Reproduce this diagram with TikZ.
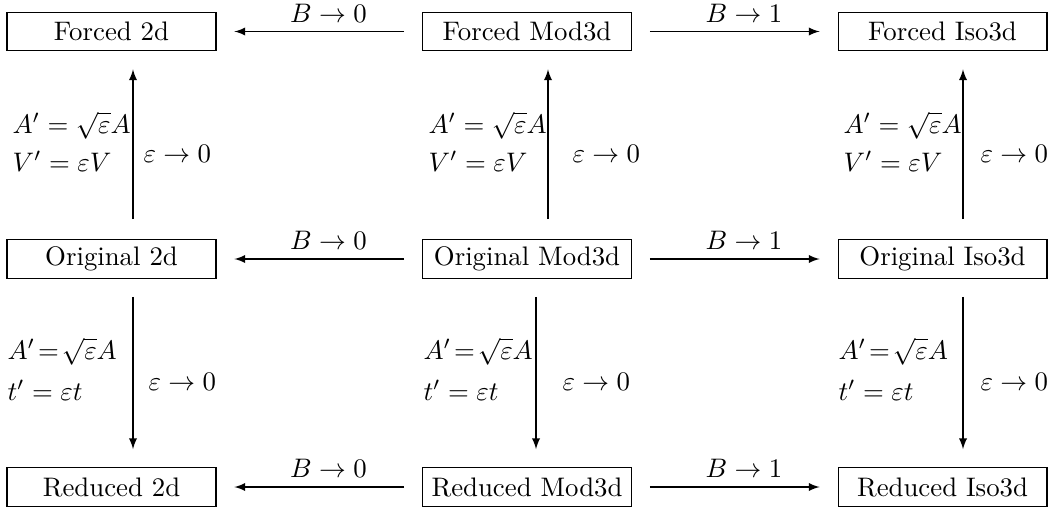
\documentclass[tikz,border=0pt]{standalone}
\usepackage{amsmath,amssymb}
\usetikzlibrary{calc}

\begin{document}
\begin{tikzpicture}[x=0.3733pt, y=-0.3733pt, >=latex,
  model/.style={draw, minimum width=78pt, minimum height=14.45pt, inner sep=0pt},
  lim/.style={->, shorten >=6.7pt, shorten <=6.7pt},
  limlabel/.style={midway, above=3.3pt, inner sep=0pt, xshift=3.4pt},
  lbl/.style={inner sep=0pt, anchor=base west}]

\useasboundingbox (0,0) rectangle (1048,508);

% the nine models: rows forced / original / reduced
\node[model] (f2) at (111.5,31.5) {Forced 2d};
\node[model] (fm) at (527,31.5)   {Forced Mod3d};
\node[model] (fi) at (942.5,31.5) {Forced Iso3d};

\node[model] (o2) at (111.5,259) {Original 2d};
\node[model] (om) at (527,259)   {Original Mod3d};
\node[model] (oi) at (942.5,259) {Original Iso3d};

\node[model] (r2) at (111.5,487) {Reduced 2d};
\node[model] (rm) at (527,487)   {Reduced Mod3d};
\node[model] (ri) at (942.5,487) {Reduced Iso3d};

% B limits (horizontal)
\draw[lim] (fm) -- (f2) node[limlabel] {$B\to0$};
\draw[lim] (fm) -- (fi) node[limlabel] {$B\to1$};
\draw[lim] (om) -- (o2) node[limlabel] {$B\to0$};
\draw[lim] (om) -- (oi) node[limlabel] {$B\to1$};
\draw[lim] (rm) -- (r2) node[limlabel] {$B\to0$};
\draw[lim] (rm) -- (ri) node[limlabel] {$B\to1$};

% epsilon limits (vertical), original -> forced
\draw[lim, shorten <=7.5pt] ($(o2.north)+(21.5,0)$) -- ($(f2.south)+(21.5,0)$);
\draw[lim, shorten <=7.5pt] ($(om.north)+(21,0)$) -- ($(fm.south)+(21,0)$);
\draw[lim, shorten <=7.5pt] ($(oi.north)+(20.5,0)$) -- ($(fi.south)+(20.5,0)$);

% epsilon limits (vertical), original -> reduced
\draw[lim] ($(o2.south)+(21.5,0)$) -- ($(r2.north)+(21.5,0)$);
\draw[lim] ($(om.south)+(9,0)$) -- ($(rm.north)+(9,0)$);
\draw[lim] ($(oi.south)+(20.5,0)$) -- ($(ri.north)+(20.5,0)$);

% scalings, upper half
\node[lbl] (sa2) at (12,133)  {$A'=\sqrt{\varepsilon}A$};
\node[lbl] (sv2) at (12,171)  {$V'=\varepsilon V$};
\node[lbl] (ea2) at (143,163) {$\varepsilon\to0$};
\node[lbl] (sam) at (428,133) {$A'=\sqrt{\varepsilon}A$};
\node[lbl] (svm) at (428,171) {$V'=\varepsilon V$};
\node[lbl] (eam) at (572,163) {$\varepsilon\to0$};
\node[lbl] (sai) at (843,133) {$A'=\sqrt{\varepsilon}A$};
\node[lbl] (svi) at (843,171) {$V'=\varepsilon V$};
\node[lbl] (eai) at (980,163) {$\varepsilon\to0$};

% scalings, lower half
\node[lbl] (ta2) at (7,359)   {$A'\!=\!\sqrt{\varepsilon}A$};
\node[lbl] (tt2) at (7,400)   {$t'=\varepsilon t$};
\node[lbl] (eb2) at (148,390) {$\varepsilon\to0$};
\node[lbl] (tam) at (423,359) {$A'\!=\!\sqrt{\varepsilon}A$};
\node[lbl] (ttm) at (423,400) {$t'=\varepsilon t$};
\node[lbl] (ebm) at (562,390) {$\varepsilon\to0$};
\node[lbl] (tai) at (838,359) {$A'\!=\!\sqrt{\varepsilon}A$};
\node[lbl] (tti) at (838,400) {$t'=\varepsilon t$};
\node[lbl] (ebi) at (980,390) {$\varepsilon\to0$};

\end{tikzpicture}
\end{document}
